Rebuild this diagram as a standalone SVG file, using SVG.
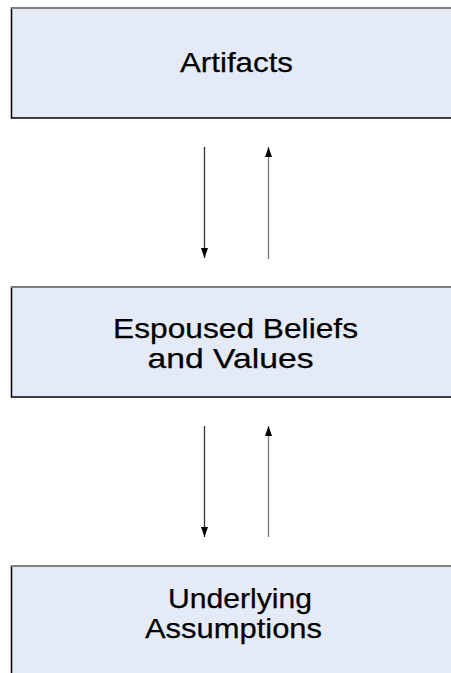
<svg xmlns="http://www.w3.org/2000/svg" width="451" height="673" viewBox="0 0 451 673">
<style>
.box{fill:#E5EBF6;stroke:#000;stroke-width:1.5}
.top{stroke:#7f7f7f;stroke-width:2}
.lbl{font-family:"Liberation Sans",Arial,sans-serif;font-size:28.5px;fill:#000;stroke:#000;stroke-width:0.25;text-anchor:middle}
.dn{stroke:#333;stroke-width:1.3;fill:none}
.up{stroke:#7a7a7a;stroke-width:1.3;fill:none}
</style>
<defs>
<marker id="ah" viewBox="0 0 10 7" refX="10" refY="3.5" markerWidth="10" markerHeight="7" markerUnits="userSpaceOnUse" orient="auto">
<path d="M0,0 L10,3.5 L0,7 Z" fill="#000"/>
</marker>
</defs>
<g id="artifacts">
<rect class="box" x="11.5" y="8" width="460" height="110"/>
<line class="top" x1="11" y1="8" x2="451" y2="8"/>
<text class="lbl" x="236.5" y="72" textLength="113" lengthAdjust="spacingAndGlyphs">Artifacts</text>
</g>
<g id="espoused">
<rect class="box" x="11.5" y="287" width="460" height="110"/>
<line class="top" x1="11" y1="287" x2="451" y2="287"/>
<text class="lbl" x="235.5" y="338" textLength="245" lengthAdjust="spacingAndGlyphs">Espoused Beliefs</text>
<text class="lbl" x="230.5" y="368" textLength="166" lengthAdjust="spacingAndGlyphs">and Values</text>
</g>
<g id="underlying">
<rect class="box" x="11.5" y="566" width="460" height="130"/>
<line class="top" x1="11" y1="566" x2="451" y2="566"/>
<text class="lbl" x="240" y="608" textLength="144" lengthAdjust="spacingAndGlyphs">Underlying</text>
<text class="lbl" x="233.5" y="638" textLength="177" lengthAdjust="spacingAndGlyphs">Assumptions</text>
</g>
<g id="connectors">
<line class="dn" x1="204.5" y1="147" x2="204.5" y2="258" marker-end="url(#ah)"/>
<line class="up" x1="268.5" y1="259" x2="268.5" y2="147" marker-end="url(#ah)"/>
<line class="dn" x1="204.5" y1="426" x2="204.5" y2="537" marker-end="url(#ah)"/>
<line class="up" x1="268.5" y1="537" x2="268.5" y2="426" marker-end="url(#ah)"/>
</g>
</svg>
